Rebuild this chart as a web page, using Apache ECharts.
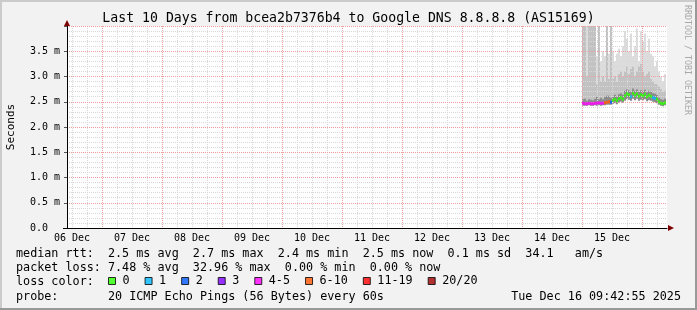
<!DOCTYPE html>
<html><head><meta charset="utf-8">
<script src="https://cdn.jsdelivr.net/npm/echarts@6/dist/echarts.min.js"></script>
<style>html,body{margin:0;padding:0;background:#f2f2f2}#c{width:697px;height:310px}</style>
</head><body><div id="c"></div>
<script>
// ---------------- data ----------------
const TITLE = 'Last 10 Days from bcea2b7376b4 to Google DNS 8.8.8.8 (AS15169)';
const xRangeHours = [10, 250];               // hours since 06 Dec 00:00
const dayLabels = ['06 Dec','07 Dec','08 Dec','09 Dec','10 Dec','11 Dec','12 Dec','13 Dec','14 Dec','15 Dec'];
const dayLabelHours = [12,36,60,84,108,132,156,180,204,228];
const majorGridHours = [24,48,72,96,120,144,168,192,216,240];
const yLabelsMs = [0,0.5,1,1.5,2,2.5,3,3.5];

const sampleHours = [216.4,217.2,218.0,218.8,219.6,220.4,221.2,222.0,222.8,223.6,224.4,225.2,226.0,226.8,227.6,
  228.4,229.2,230.0,230.8,231.6,232.4,
  233.2,234.0,234.8,235.6,236.4,237.2,238.0,238.8,239.6,240.4,241.2,242.0,242.8,243.6,
  244.4,245.2,246.0,246.8,247.6,248.4,249.2];
const medianMs = [2.47,2.46,2.46,2.47,2.46,2.46,2.47,2.47,2.48,2.47,2.47,2.48,2.49,2.50,2.49,
  2.53,2.55,2.52,2.56,2.58,2.55,
  2.62,2.66,2.64,2.60,2.67,2.63,2.66,2.61,2.64,2.62,2.65,2.60,2.63,2.61,
  2.58,2.57,2.55,2.50,2.47,2.46,2.48];
const lossCount = [5,5,4,5,5,4,5,5,4,5,5,7,6,7,2,
  0,0,0,0,0,0,
  0,0,0,1,0,0,0,0,0,0,0,0,0,0,
  1,1,0,0,0,0,0];
const smokeMin = [2.42,2.42,2.42,2.43,2.42,2.42,2.43,2.42,2.43,2.42,2.43,2.43,2.44,2.44,2.44,
  2.46,2.47,2.45,2.48,2.50,2.48,
  2.52,2.55,2.54,2.52,2.56,2.53,2.56,2.52,2.54,2.53,2.55,2.51,2.53,2.52,
  2.50,2.49,2.47,2.44,2.42,2.41,2.43];
const smokeP75 = [2.55,2.56,2.52,2.55,2.54,2.53,2.56,2.60,2.55,2.58,2.55,2.60,2.62,2.62,2.58,
  2.62,2.64,2.60,2.65,2.67,2.64,
  2.72,2.75,2.73,2.70,2.76,2.72,2.75,2.70,2.73,2.71,2.74,2.69,2.72,2.70,
  2.67,2.66,2.64,2.58,2.55,2.54,2.56];
const smokeP90 = [5,5,3.0,5,5,5,5,2.85,5,2.9,3.0,2.9,5,2.95,5,
  2.95,3.0,2.9,3.05,3.1,3.0,
  3.1,3.2,3.05,3.15,3.2,3.0,3.1,3.2,3.25,3.1,3.0,3.05,3.1,2.95,
  2.9,2.85,2.85,2.8,2.75,2.7,2.72];
const smokeMax = [5,5,5,5,5,5,5,3.4,5,3.3,3.5,3.4,5,3.45,5,
  3.5,3.3,3.45,3.55,3.4,3.6,
  3.9,3.75,3.5,3.85,3.4,3.6,3.95,3.3,3.9,3.7,3.85,3.5,3.75,3.45,
  3.4,3.2,3.3,3.1,3.0,2.9,3.05];

const lossNames  = ['0','1','2','3','4-5','6-10','11-19','20/20'];
const lossLow    = [0,1,2,3,4,6,11,20];
const lossHigh   = [0,1,2,3,5,10,19,20];
const lossColors = ['#26ff00','#00b8ff','#0059ff','#7e00ff','#ff00ff','#ff5500','#ff0000','#a10000'];

const statLines = [
  'median rtt:  2.5 ms avg  2.7 ms max  2.4 ms min  2.5 ms now  0.1 ms sd  34.1   am/s',
  'packet loss: 7.48 % avg  32.96 % max  0.00 % min  0.00 % now',
  'loss color:',
  'probe:       20 ICMP Echo Pings (56 Bytes) every 60s'
];
const stampText = 'Tue Dec 16 09:42:55 2025';
const sideText = 'RRDTOOL / TOBI OETIKER';

// ---------------- chart ----------------
const W = 697, H = 310;
const G = {left: 67, right: 30, top: 26, bottom: 82};
const MONO = '"DejaVu Sans Mono", monospace';
const minorGridHours = [];
for (let h = 12; h < 250; h += 6) if (h % 24 !== 0) minorGridHours.push(h);

// smoke: overlapping bars drawn from outermost (lightest) to innermost, then canvas-white below the minimum
const smokeLayers = [
  {name: 'light', vals: smokeMax, color: '#dcdcdc'},
  {name: 'mid',   vals: smokeP90, color: '#c2c2c2'},
  {name: 'core',  vals: smokeP75, color: '#8c8c8c'},
  {name: 'base',  vals: smokeMin, color: '#ffffff'}
];
const smokeSeries = smokeLayers.map(s => ({
  type: 'bar', name: s.name, xAxisIndex: 1, yAxisIndex: 0, barWidth: 2, barGap: '-100%',
  data: sampleHours.map((t, i) => [t, s.vals[i]]), itemStyle: {color: s.color},
  silent: true, z: 2, clip: true
}));

const medianSeries = lossNames.map((nm, k) => ({
  type: 'scatter', name: nm, xAxisIndex: 1, yAxisIndex: 0, symbol: 'rect', symbolSize: [2, 3],
  itemStyle: {color: lossColors[k]}, z: 6, silent: true,
  data: sampleHours.map((t, i) => (lossCount[i] >= lossLow[k] && lossCount[i] <= lossHigh[k]) ? [t, medianMs[i]] : null).filter(d => d)
}));

const txt = (x, y, text, extra) => ({
  type: 'text', x: x, y: y, silent: true, z: 10,
  style: Object.assign({text: text, font: '11.76px "DejaVu Sans Mono"', fill: '#000',
    textAlign: 'left', textVerticalAlign: 'middle', align: 'left', verticalAlign: 'middle'}, extra || {})
});

const xEnd = W - G.right, yBase = H - G.bottom;
const graphics = [
  {type: 'rect', shape: {x: 0, y: 0, width: W, height: 2}, style: {fill: '#cbcbcb'}, silent: true},
  {type: 'rect', shape: {x: 0, y: 0, width: 2, height: H}, style: {fill: '#cbcbcb'}, silent: true},
  {type: 'rect', shape: {x: 0, y: H - 2, width: W, height: 2}, style: {fill: '#999999'}, silent: true},
  {type: 'rect', shape: {x: W - 2, y: 0, width: 2, height: H}, style: {fill: '#999999'}, silent: true},
  {type: 'polygon', shape: {points: [[G.left - 3, G.top], [G.left + 3, G.top], [G.left, G.top - 6]]}, style: {fill: '#7f0000'}, z: 10, silent: true},
  {type: 'polygon', shape: {points: [[xEnd + 1, yBase - 3], [xEnd + 1, yBase + 3], [xEnd + 7, yBase]]}, style: {fill: '#7f0000'}, z: 10, silent: true},
  {type: 'line', shape: {x1: G.left - 4, y1: yBase + 0.5, x2: G.left, y2: yBase + 0.5}, style: {stroke: '#000', lineWidth: 1}, z: 10, silent: true},
  txt(16, 254, statLines[0]),
  txt(16, 268, statLines[1]),
  txt(16, 282, statLines[2]),
  txt(16, 296.5, statLines[3]),
  txt(681, 296.5, stampText, {textAlign: 'right', align: 'right'}),
  {type: 'text', x: 687, y: 5, rotation: -Math.PI / 2, silent: true, z: 10,
   style: {text: sideText, font: '8.3px "DejaVu Sans Mono"', fill: '#a8a8a8',
     textAlign: 'left', align: 'left', textVerticalAlign: 'middle', verticalAlign: 'middle'}}
];

const chart = echarts.init(document.getElementById('c'), null, {renderer: 'canvas'});
chart.setOption({
  backgroundColor: '#f2f2f2',
  animation: false,
  title: {text: TITLE, left: 'center', top: 12, padding: 0,
    textStyle: {fontFamily: MONO, fontSize: 13.2, fontWeight: 'normal', color: '#000'}},
  grid: {left: G.left, right: G.right, top: G.top, bottom: G.bottom, show: true,
    backgroundColor: '#ffffff', borderWidth: 0, containLabel: false, outerBoundsMode: 'none'},
  legend: {left: 108, top: 275, padding: 0, itemGap: 15, itemWidth: 7, itemHeight: 7, icon: 'rect',
    selectedMode: false, data: lossNames,
    itemStyle: {borderColor: '#000', borderWidth: 1},
    textStyle: {fontFamily: MONO, fontSize: 11.76, color: '#000', padding: [0, 0, 0, 2]}},
  xAxis: [
    {type: 'value', position: 'bottom', min: xRangeHours[0], max: xRangeHours[1], z: 3,
     axisLine: {show: false}, axisLabel: {show: false},
     axisTick: {show: false, customValues: minorGridHours},
     splitLine: {show: true, lineStyle: {color: '#d8d8d8', width: 1, type: [1, 1]}}},
    {type: 'value', position: 'bottom', min: xRangeHours[0], max: xRangeHours[1], z: 4,
     axisLine: {show: true, onZero: false, lineStyle: {color: '#000', width: 1}},
     axisTick: {show: false, customValues: majorGridHours},
     axisLabel: {customValues: dayLabelHours, margin: 5, fontFamily: MONO, fontSize: 10, color: '#000',
       formatter: v => dayLabels[dayLabelHours.indexOf(Math.round(v))]},
     splitLine: {show: true, lineStyle: {color: '#eea0a0', width: 1, type: [1, 1]}}}
  ],
  yAxis: {type: 'value', min: 0, max: 4, interval: 0.5, z: 4,
    axisLine: {show: true, lineStyle: {color: '#000', width: 1}},
    axisTick: {show: true, length: 3, lineStyle: {color: '#555'}},
    axisLabel: {margin: 7, fontFamily: MONO, fontSize: 10, color: '#000',
      customValues: yLabelsMs,
      formatter: v => v === 0 ? '0.0  ' : v.toFixed(1) + ' m'},
    splitLine: {show: true, lineStyle: {color: '#eea0a0', width: 1, type: [1, 1]}},
    minorTick: {show: false, splitNumber: 5},
    minorSplitLine: {show: true, lineStyle: {color: '#d8d8d8', width: 1, type: [1, 1]}},
    name: 'Seconds', nameLocation: 'middle', nameGap: 50, nameRotate: 90,
    nameTextStyle: {fontFamily: MONO, fontSize: 11, color: '#000'}},
  series: smokeSeries.concat(medianSeries),
  graphic: graphics
});
</script></body></html>
